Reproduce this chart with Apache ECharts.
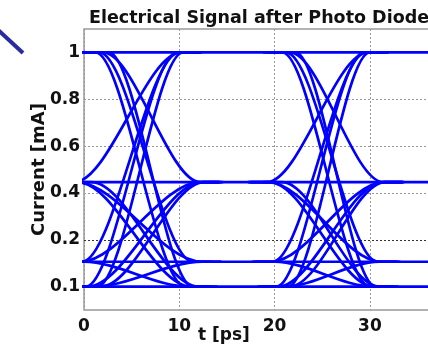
<!DOCTYPE html>
<html>
<head>
<meta charset="utf-8">
<script src="https://cdn.jsdelivr.net/npm/echarts@6/dist/echarts.min.js"></script>
<style>
html, body { margin: 0; padding: 0; background: #fff; overflow: hidden; }
#chart { width: 480px; height: 344px; }
</style>
</head>
<body>
<div id="chart"></div>
<script>
// --- data ---
// current axis labels (drawn evenly spaced in the original, not linear)
const yTickLabels = [0.1, 0.2, 0.4, 0.6, 0.8, 1];
// signal levels, mA
const levels = [1, 0.446, 0.153, 0.1];
// first eye: [from mA, to mA, start ps, end ps]
const eye1 = [
    [1, 0.446, 2.0, 12.2],
    [1, 0.153, 1.6, 11.4],
    [1, 0.1, 1.2, 10.6],
    [1, 0.1, 2.6, 11.4],
    [0.446, 1, -1.0, 10.2],
    [0.153, 1, -0.2, 10.0],
    [0.1, 1, 0.2, 9.8],
    [0.1, 1, 1.4, 10.4],
    [0.446, 0.153, -0.8, 12.4],
    [0.446, 0.1, -0.6, 11.2],
    [0.446, 0.1, 0.8, 12.0],
    [0.153, 0.446, -0.4, 12.2],
    [0.1, 0.446, 0.4, 12.4],
    [0.1, 0.446, 1.8, 12.6],
    [0.153, 0.1, 0.0, 11.0],
    [0.1, 0.153, 1.0, 12.4]
];
// second eye
const eye2 = [
    [1, 0.446, 21.6, 31.4],
    [1, 0.153, 21.2, 30.8],
    [1, 0.1, 20.8, 30.0],
    [1, 0.1, 22.2, 30.6],
    [0.446, 1, 19.2, 29.8],
    [0.153, 1, 19.8, 29.6],
    [0.1, 1, 20.2, 29.4],
    [0.1, 1, 21.4, 30.0],
    [0.446, 0.153, 19.3, 31.2],
    [0.446, 0.1, 19.5, 30.4],
    [0.446, 0.1, 20.8, 31.0],
    [0.153, 0.446, 19.6, 31.5],
    [0.1, 0.446, 20.4, 31.4],
    [0.1, 0.446, 21.6, 31.6],
    [0.153, 0.1, 20.0, 30.4],
    [0.1, 0.153, 21.0, 31.0]
];

const T_MAX = 40;
const BLUE = '#0000ff';
const FONT = 'DejaVu Sans';

// mA -> position on the (evenly labelled) axis, label i sits at i + 0.5
function toAxis(v) {
    let i = 0;
    while (i < yTickLabels.length - 2 && v > yTickLabels[i + 1]) i++;
    const a = yTickLabels[i], b = yTickLabels[i + 1];
    return i + 0.5 + (v - a) / (b - a);
}

const labelPos = yTickLabels.map((v, i) => i + 0.5);

function levelSeries(v) {
    return {
        type: 'line',
        data: [[0, toAxis(v)], [T_MAX, toAxis(v)]],
        symbol: 'none',
        lineStyle: { color: BLUE, width: 2.7 },
        silent: true
    };
}

function transitionSeries(tr) {
    const [from, to, t0, t1] = tr;
    return {
        type: 'line',
        data: [
            [t0 - 2, toAxis(from)],
            [t0, toAxis(from)],
            [t1, toAxis(to)],
            [t1 + 2, toAxis(to)]
        ],
        symbol: 'none',
        smooth: 0.32,
        smoothMonotone: 'x',
        lineStyle: { color: BLUE, width: 2.7 },
        silent: true
    };
}

const chart = echarts.init(document.getElementById('chart'));

const series = []
    .concat(levels.map(levelSeries))
    .concat(eye1.map(transitionSeries))
    .concat(eye2.map(transitionSeries));

chart.setOption({
    animation: false,
    title: [
        {
            text: 'Electrical Signal after Photo Diode',
            left: 89, top: 9, padding: 0,
            textStyle: { fontFamily: FONT, fontWeight: 'bold', fontSize: 17.5, color: '#111' }
        },
        {
            text: 't [ps]',
            left: 198, top: 327, padding: 0,
            textStyle: { fontFamily: FONT, fontWeight: 'bold', fontSize: 17, color: '#111' }
        }
    ],
    graphic: [{
        type: 'line',
        shape: { x1: -2, y1: 30, x2: 23, y2: 53 },
        style: { stroke: '#2b2ba0', lineWidth: 4 }
    }],
    grid: {
        left: 84, top: 29, width: 384, height: 281,
        show: true, borderColor: '#999', borderWidth: 1.5
    },
    xAxis: {
        type: 'value', min: 0, max: T_MAX, interval: 10,
        axisLine: { show: false },
        axisTick: { show: false },
        axisLabel: { margin: 8, fontFamily: FONT, fontWeight: 'bold', fontSize: 17, color: '#111' },
        splitLine: { lineStyle: { color: '#999', type: [2, 2], width: 1 } }
    },
    yAxis: {
        type: 'value', min: 0, max: 6,
        name: 'Current [mA]', nameLocation: 'middle', nameGap: 36, nameRotate: 90,
        nameMoveOverlap: false,
        nameTextStyle: { fontFamily: FONT, fontWeight: 'bold', fontSize: 18, color: '#111' },
        axisLine: { show: false },
        axisTick: { show: false, customValues: labelPos },
        axisLabel: {
            customValues: labelPos, margin: 4,
            fontFamily: FONT, fontWeight: 'bold', fontSize: 17, color: '#111',
            formatter: v => String(yTickLabels[Math.round(v - 0.5)])
        },
        splitLine: {
            lineStyle: { color: ['#999', '#333', '#999', '#999', '#999', '#999'], type: [2, 2], width: 1 }
        }
    },
    series: series
});
</script>
</body>
</html>
